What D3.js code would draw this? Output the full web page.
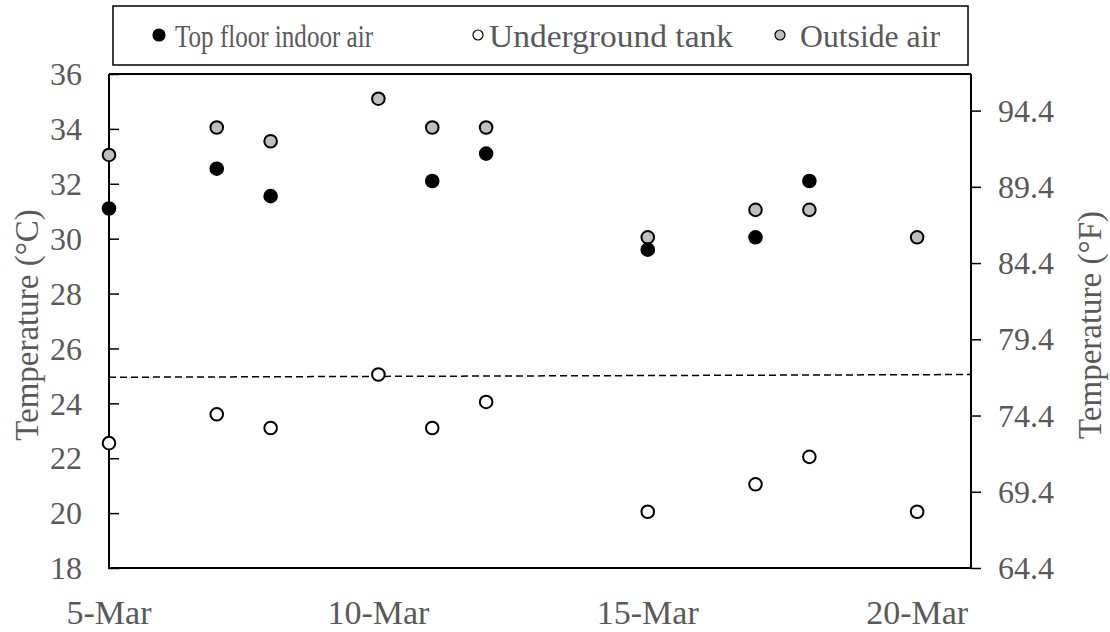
<!DOCTYPE html>
<html><head><meta charset="utf-8">
<script src="https://cdn.jsdelivr.net/npm/d3@7"></script>
<style>body{margin:0;background:#fff}svg{display:block}text{font-family:"Liberation Serif","Times New Roman",serif;fill:#595959}</style>
</head><body><svg id="c" width="1110" height="632"></svg>
<script>
const dates = ["5-Mar","7-Mar","8-Mar","10-Mar","11-Mar","12-Mar","15-Mar","17-Mar","18-Mar","20-Mar"];
const topFloor = [31.1,32.55,31.55,null,32.1,33.1,29.6,30.05,32.1,null];
const tank = [22.55,23.6,23.1,25.05,23.1,24.05,20.05,21.05,22.05,20.05];
const outside = [33.05,34.05,33.55,35.1,34.05,34.05,30.05,31.05,31.05,30.05];
const seriesNames = ["Top floor indoor air","Underground tank","Outside air"];
const xTickLabels = ["5-Mar","10-Mar","15-Mar","20-Mar"];
const xDomain = ["5-Mar","21-Mar"];
const yDomainC = [18,36];
const yTicksC = [18,20,22,24,26,28,30,32,34,36];
const yTicksF = [64.4,69.4,74.4,79.4,84.4,89.4,94.4];
const refLine = [24.95,25.05];

const parse = s => d3.timeParse("%Y-%d-%b")("2020-"+s);
const svg = d3.select("#c");
const L=109,R=971,T=74,B=568;
const x = d3.scaleTime().domain(xDomain.map(parse)).range([L,R]);
const y = d3.scaleLinear().domain(yDomainC).range([B,T]);
const yF = d3.scaleLinear().domain(yDomainC.map(c=>c*9/5+32)).range([B,T]);

// left axis
const la = svg.append("g").attr("transform",`translate(${L},0)`)
  .call(d3.axisRight(y).tickValues(yTicksC).tickSize(10).tickFormat(""));
la.select(".domain").remove();
la.selectAll("line").attr("stroke","#000").attr("stroke-width",1.5);
svg.append("g").selectAll("text").data(yTicksC).join("text")
  .attr("x",L-27).attr("y",d=>y(d)).attr("dy","0.35em").attr("text-anchor","end")
  .attr("font-size",32).text(d=>d);

// right axis
const ra = svg.append("g").attr("transform",`translate(${R},0)`)
  .call(d3.axisRight(yF).tickValues(yTicksF).tickSize(10).tickFormat(""));
ra.select(".domain").remove();
ra.selectAll("line").attr("stroke","#000").attr("stroke-width",1.5);
svg.append("g").selectAll("text").data(yTicksF).join("text")
  .attr("x",R+27).attr("y",d=>yF(d)).attr("dy","0.35em").attr("text-anchor","start")
  .attr("font-size",32).text(d=>d.toFixed(1));

// frame
svg.append("path").attr("d",`M${L},${T}V${B}H${R}V${T}`).attr("fill","none").attr("stroke","#000").attr("stroke-width",2);
svg.append("line").attr("x1",L).attr("x2",R).attr("y1",T).attr("y2",T).attr("stroke","#000").attr("stroke-width",2);

// x labels
svg.append("g").selectAll("text").data(xTickLabels).join("text")
  .attr("x",d=>x(parse(d))).attr("y",B+56).attr("text-anchor","middle")
  .attr("font-size",34).text(d=>d);

// titles
svg.append("text").attr("transform",`translate(38,${(T+B)/2+4}) rotate(-90)`).attr("text-anchor","middle")
  .attr("font-size",33).text("Temperature (°C)");
svg.append("text").attr("transform",`translate(1101,${(T+B)/2+4}) rotate(-90)`).attr("text-anchor","middle")
  .attr("font-size",33).text("Temperature (°F)");

// ref line
svg.append("line").attr("x1",L).attr("x2",R).attr("y1",y(refLine[0])).attr("y2",y(refLine[1]))
  .attr("stroke","#000").attr("stroke-width",1.5).attr("stroke-dasharray","7,4");

const series = [
  {vals:outside, fill:"#bfbfbf"},
  {vals:tank, fill:"#fff"},
  {vals:topFloor, fill:"#000"}
];
series.forEach(s=>{
  svg.append("g").selectAll("circle").data(dates.map((d,i)=>({d,v:s.vals[i]})).filter(p=>p.v!=null))
    .join("circle").attr("cx",p=>x(parse(p.d))).attr("cy",p=>y(p.v)).attr("r",6.3)
    .attr("fill",s.fill).attr("stroke","#000").attr("stroke-width",2);
});

// legend
svg.append("rect").attr("x",113).attr("y",6).attr("width",855).attr("height",59)
  .attr("fill","#fff").attr("stroke","#000").attr("stroke-width",1.5);
const legFills = ["#000","#fff","#bfbfbf"];
const legX = [159,478,780];
const legGap = [16,11,20];
const legLen = [198,244,140];
seriesNames.forEach((n,i)=>{
  svg.append("circle").attr("cx",legX[i]).attr("cy",35).attr("r",i===0?6:5)
    .attr("fill",legFills[i]).attr("stroke","#000").attr("stroke-width",1.2);
  svg.append("text").attr("x",legX[i]+legGap[i]).attr("y",47).attr("font-size",32)
    .attr("textLength",legLen[i]).attr("lengthAdjust","spacingAndGlyphs").text(n);
});
</script></body></html>
